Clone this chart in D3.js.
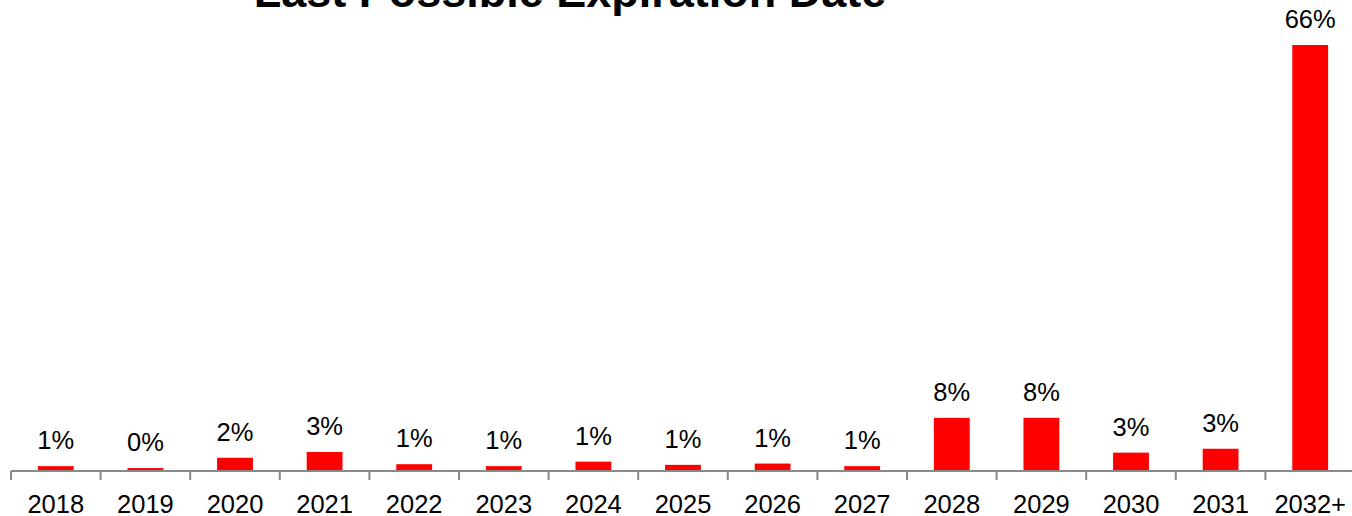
<!DOCTYPE html>
<html>
<head>
<meta charset="utf-8">
<script src="https://cdn.jsdelivr.net/npm/d3@7"></script>
<style>
  html, body { margin: 0; padding: 0; background: #fff; }
  svg { display: block; }
</style>
</head>
<body>
<svg id="chart" width="1352" height="516"></svg>
<script>
const title = "Last Possible Expiration Date";
const categories = ["2018","2019","2020","2021","2022","2023","2024","2025","2026","2027","2028","2029","2030","2031","2032+"];
const values = [0.6, 0.3, 1.9, 2.8, 0.9, 0.6, 1.3, 0.8, 1.0, 0.6, 8.1, 8.1, 2.7, 3.3, 66];
const labels = ["1%","0%","2%","3%","1%","1%","1%","1%","1%","1%","8%","8%","3%","3%","66%"];

const svg = d3.select("#chart");
const font = "Liberation Sans, Arial, Helvetica, sans-serif";

const x = d3.scaleBand().domain(categories).range([11, 1355]).paddingInner(0.6).paddingOuter(0.3);
const y = d3.scaleLinear().domain([0, 66]).range([470, 45]);

svg.append("text")
  .attr("x", 570).attr("y", 7)
  .attr("text-anchor", "middle")
  .attr("font-family", font).attr("font-weight", "bold").attr("font-size", 45)
  .attr("fill", "#000")
  .text(title);

// axis (drawn first so bars sit on top)
const axisG = svg.append("g").attr("transform", "translate(0,471)");
const step = x.step();
const x0 = x.range()[0];
axisG.append("line")
  .attr("x1", x0).attr("x2", x.range()[1])
  .attr("y1", 0).attr("y2", 0)
  .attr("stroke", "#898989").attr("stroke-width", 2);
const tickPos = d3.range(categories.length + 1).map(i => x0 + i * step);
axisG.selectAll("line.tick").data(tickPos).enter().append("line")
  .attr("class", "tick")
  .attr("x1", d => d).attr("x2", d => d)
  .attr("y1", 0).attr("y2", 9)
  .attr("stroke", "#898989").attr("stroke-width", 2);
axisG.selectAll("text.cat").data(categories).enter().append("text")
  .attr("class", "cat")
  .attr("x", d => x(d) + x.bandwidth() / 2)
  .attr("y", 42)
  .attr("text-anchor", "middle")
  .attr("font-family", font).attr("font-size", 25.5)
  .attr("fill", "#000")
  .text(d => d);

svg.selectAll("rect.bar").data(values).enter().append("rect")
  .attr("class", "bar")
  .attr("x", (d, i) => x(categories[i]))
  .attr("width", x.bandwidth())
  .attr("y", d => y(d))
  .attr("height", d => y(0) - y(d))
  .attr("fill", "#ff0000");

svg.selectAll("text.val").data(values).enter().append("text")
  .attr("class", "val")
  .attr("x", (d, i) => x(categories[i]) + x.bandwidth() / 2)
  .attr("y", d => y(d) - 17)
  .attr("text-anchor", "middle")
  .attr("font-family", font).attr("font-size", 25.5)
  .attr("fill", "#000")
  .text((d, i) => labels[i]);
</script>
</body>
</html>
